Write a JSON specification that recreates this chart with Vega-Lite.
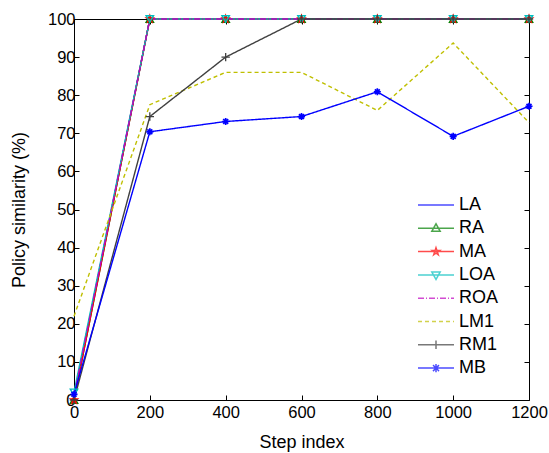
{
  "$schema": "https://vega.github.io/schema/vega-lite/v6.json",
  "width": 455,
  "height": 381,
  "autosize": {"type": "none"},
  "padding": {"left": 74, "top": 19, "right": 20, "bottom": 53},
  "background": "white",
  "config": {
    "font": "Liberation Sans",
    "view": {"stroke": "black", "strokeWidth": 1},
    "axis": {
      "grid": false,
      "ticks": true,
      "domain": false,
      "offset": -5,
      "tickColor": "black",
      "tickWidth": 1,
      "tickSize": 5,
      "labelColor": "black",
      "titleColor": "black",
      "labelFontSize": 16.5,
      "titleFontSize": 18,
      "titleFontWeight": "normal",
      "labelPadding": 2,
      "labelFlush": false,
      "labelOverlap": false,
      "format": "d",
      "zindex": 1
    }
  },
  "datasets": {
    "d": [
      {"s": "LA", "x": 0, "y": 1}, {"s": "LA", "x": 200, "y": 100}, {"s": "LA", "x": 400, "y": 100}, {"s": "LA", "x": 600, "y": 100}, {"s": "LA", "x": 800, "y": 100}, {"s": "LA", "x": 1000, "y": 100}, {"s": "LA", "x": 1200, "y": 100},
      {"s": "RA", "x": 0, "y": 0}, {"s": "RA", "x": 200, "y": 100}, {"s": "RA", "x": 400, "y": 100}, {"s": "RA", "x": 600, "y": 100}, {"s": "RA", "x": 800, "y": 100}, {"s": "RA", "x": 1000, "y": 100}, {"s": "RA", "x": 1200, "y": 100},
      {"s": "MA", "x": 0, "y": 0}, {"s": "MA", "x": 200, "y": 100}, {"s": "MA", "x": 400, "y": 100}, {"s": "MA", "x": 600, "y": 100}, {"s": "MA", "x": 800, "y": 100}, {"s": "MA", "x": 1000, "y": 100}, {"s": "MA", "x": 1200, "y": 100},
      {"s": "LOA", "x": 0, "y": 2}, {"s": "LOA", "x": 200, "y": 100}, {"s": "LOA", "x": 400, "y": 100}, {"s": "LOA", "x": 600, "y": 100}, {"s": "LOA", "x": 800, "y": 100}, {"s": "LOA", "x": 1000, "y": 100}, {"s": "LOA", "x": 1200, "y": 100},
      {"s": "ROA", "x": 0, "y": 1}, {"s": "ROA", "x": 200, "y": 100}, {"s": "ROA", "x": 400, "y": 100}, {"s": "ROA", "x": 600, "y": 100}, {"s": "ROA", "x": 800, "y": 100}, {"s": "ROA", "x": 1000, "y": 100}, {"s": "ROA", "x": 1200, "y": 100},
      {"s": "LM1", "x": 0, "y": 22}, {"s": "LM1", "x": 200, "y": 77.5}, {"s": "LM1", "x": 400, "y": 86}, {"s": "LM1", "x": 600, "y": 86}, {"s": "LM1", "x": 800, "y": 76}, {"s": "LM1", "x": 1000, "y": 93.7}, {"s": "LM1", "x": 1200, "y": 72.8},
      {"s": "RM1", "x": 0, "y": 0}, {"s": "RM1", "x": 200, "y": 74.4}, {"s": "RM1", "x": 400, "y": 90}, {"s": "RM1", "x": 600, "y": 100}, {"s": "RM1", "x": 800, "y": 100}, {"s": "RM1", "x": 1000, "y": 100}, {"s": "RM1", "x": 1200, "y": 100},
      {"s": "MB", "x": 0, "y": 1.5}, {"s": "MB", "x": 200, "y": 70.4}, {"s": "MB", "x": 400, "y": 73.1}, {"s": "MB", "x": 600, "y": 74.4}, {"s": "MB", "x": 800, "y": 80.9}, {"s": "MB", "x": 1000, "y": 69.2}, {"s": "MB", "x": 1200, "y": 77.1}
    ]
  },
  "data": {"name": "d"},
  "encoding": {
    "x": {"field": "x", "type": "quantitative", "scale": {"domain": [0, 1200], "nice": false}, "axis": null},
    "y": {"field": "y", "type": "quantitative", "scale": {"domain": [0, 100], "nice": false}, "axis": null}
  },
  "layer": [
    {
      "mark": {"type": "line", "strokeWidth": 1.4},
      "encoding": {
        "x": {"field": "x", "type": "quantitative", "axis": {"title": "Step index", "values": [0, 200, 400, 600, 800, 1000, 1200], "labelPadding": 4, "titlePadding": 13}},
        "y": {"field": "y", "type": "quantitative", "axis": {"title": "Policy similarity (%)", "values": [0, 10, 20, 30, 40, 50, 60, 70, 80, 90, 100], "labelPadding": -1, "titlePadding": 19}},
        "color": {"field": "s", "type": "nominal", "sort": null,
          "scale": {"domain": ["LA", "RA", "MA", "LOA", "ROA", "LM1", "RM1", "MB"], "range": ["#0000ff", "#008000", "#ff0000", "#00bfbf", "#bf00bf", "#bfbf00", "#404040", "#0000ff"]},
          "legend": {"title": null, "orient": "none", "legendX": 353, "legendY": 177, "labelFontSize": 18, "labelColor": "black", "symbolSize": 144, "rowPadding": 5.3, "labelOffset": 14, "symbolStrokeWidth": 1.5, "symbolOpacity": 1}},
        "strokeDash": {"field": "s", "type": "nominal", "sort": null,
          "scale": {"domain": ["LA", "RA", "MA", "LOA", "ROA", "LM1", "RM1", "MB"], "range": [[1, 0], [1, 0], [1, 0], [1, 0], [6, 2, 1, 2], [4, 3], [1, 0], [1, 0]]}}
      }
    },
    {
      "transform": [{"filter": "datum.s === 'RA'"}],
      "mark": {"type": "point", "shape": "triangle-up", "filled": false, "color": "#008000", "size": 55, "strokeWidth": 1.4, "opacity": 1}
    },
    {
      "transform": [{"filter": "datum.s === 'MA'"}],
      "mark": {"type": "point", "shape": "M0,-1L0.225,-0.31L0.951,-0.309L0.363,0.118L0.588,0.809L0,0.38L-0.588,0.809L-0.363,0.118L-0.951,-0.309L-0.225,-0.31Z", "filled": false, "color": "#ff0000", "size": 50, "strokeWidth": 1.4, "opacity": 1}
    },
    {
      "transform": [{"filter": "datum.s === 'LOA'"}],
      "mark": {"type": "point", "shape": "triangle-down", "filled": false, "color": "#00bfbf", "size": 55, "strokeWidth": 1.4, "opacity": 1}
    },
    {
      "transform": [{"filter": "datum.s === 'RM1'"}],
      "mark": {"type": "point", "shape": "M-1,0H1M0,-1V1", "filled": false, "color": "#404040", "size": 70, "strokeWidth": 1.3, "opacity": 1}
    },
    {
      "transform": [{"filter": "datum.s === 'MB'"}],
      "mark": {"type": "point", "shape": "M-1,0H1M0,-1V1M-0.7,-0.7L0.7,0.7M-0.7,0.7L0.7,-0.7", "filled": false, "color": "#0000ff", "size": 50, "strokeWidth": 1.7, "opacity": 1}
    },
    {
      "transform": [{"filter": "false"}],
      "mark": {"type": "point", "filled": false, "strokeWidth": 1.5},
      "encoding": {
        "color": {"field": "s", "type": "nominal", "sort": null},
        "strokeDash": {"field": "s", "type": "nominal", "sort": null},
        "shape": {"field": "s", "type": "nominal", "sort": null,
          "scale": {"domain": ["LA", "RA", "MA", "LOA", "ROA", "LM1", "RM1", "MB"],
            "range": [
              "M-3,0H3",
              "M-3,0H3M0,-0.75L0.7,0.5H-0.7Z",
              "M-3,0H3M0,-0.65L0.147,-0.202L0.618,-0.201L0.238,0.077L0.382,0.526L0,0.25L-0.382,0.526L-0.238,0.077L-0.618,-0.201L-0.147,-0.202Z",
              "M-3,0H3M0,0.75L0.7,-0.5H-0.7Z",
              "M-3,0H3",
              "M-3,0H3",
              "M-3,0H3M0,-0.7V0.7",
              "M-3,0H3M0,-0.7V0.7M-0.5,-0.5L0.5,0.5M-0.5,0.5L0.5,-0.5"
            ]}}
      }
    },
    {
      "mark": {"type": "rule", "opacity": 0},
      "encoding": {
        "x": {"field": "x", "type": "quantitative", "axis": {"orient": "top", "labels": false, "title": null, "values": [0, 200, 400, 600, 800, 1000, 1200]}},
        "y": {"field": "y", "type": "quantitative", "axis": {"orient": "right", "labels": false, "title": null, "values": [0, 10, 20, 30, 40, 50, 60, 70, 80, 90, 100]}}
      }
    }
  ],
  "resolve": {"axis": {"x": "independent", "y": "independent"}}
}
